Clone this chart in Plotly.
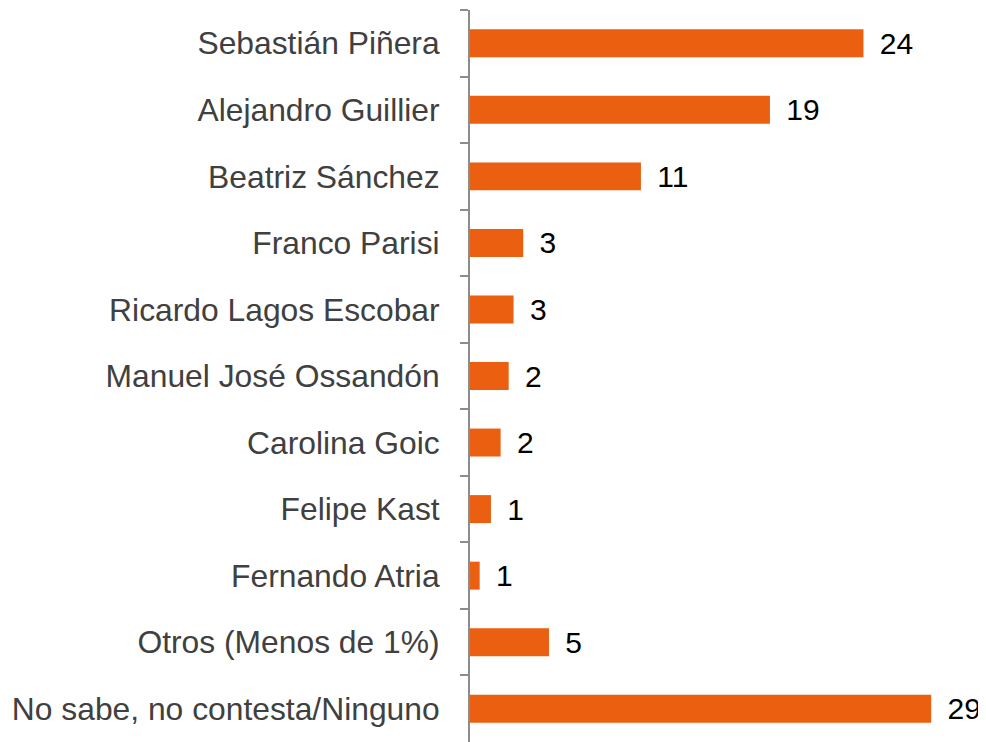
import plotly.graph_objects as go

# Intención de voto (%)
candidatos = [
    "Sebastián Piñera",
    "Alejandro Guillier",
    "Beatriz Sánchez",
    "Franco Parisi",
    "Ricardo Lagos Escobar",
    "Manuel José Ossandón",
    "Carolina Goic",
    "Felipe Kast",
    "Fernando Atria",
    "Otros (Menos de 1%)",
    "No sabe, no contesta/Ninguno",
]
porcentajes = [24.4, 18.6, 10.6, 3.3, 2.7, 2.4, 1.9, 1.3, 0.6, 4.9, 28.6]
etiquetas = ["24", "19", "11", "3", "3", "2", "2", "1", "1", "5", "29"]

NARANJA = "#EA5F10"
FUENTE = "Arial, Liberation Sans, sans-serif"

fig = go.Figure(go.Bar(
    x=porcentajes,
    y=candidatos,
    orientation="h",
    marker=dict(color=NARANJA, line=dict(width=0)),
    width=0.42,
    # pequeño espacio entre la barra y el número
    text=["\u00a0\u2006" + t for t in etiquetas],
    textposition="outside",
    constraintext="none",
    textfont=dict(family=FUENTE, size=30, color="#000000"),
    cliponaxis=False,
))

# la página deja 8px de margen en el body, se compensa aquí
fig.update_layout(
    width=978, height=734,
    margin=dict(l=462, r=0, t=2, b=0, autoexpand=False),
    plot_bgcolor="white", paper_bgcolor="white",
    showlegend=False,
    font=dict(family=FUENTE),
)

fig.update_xaxes(range=[0, 32], visible=False, showgrid=False, automargin=False)
fig.update_yaxes(
    type="category",
    autorange="reversed",
    automargin=False,
    showline=True, linewidth=2, linecolor="#8C8C8C",
    ticks="outside", ticklen=8, tickwidth=2, tickcolor="#8C8C8C",
    tickson="boundaries",
    ticklabelstandoff=22,
    tickfont=dict(family=FUENTE, size=31.8, color="#404040"),
    showgrid=False,
)

fig.write_html("out.html")
